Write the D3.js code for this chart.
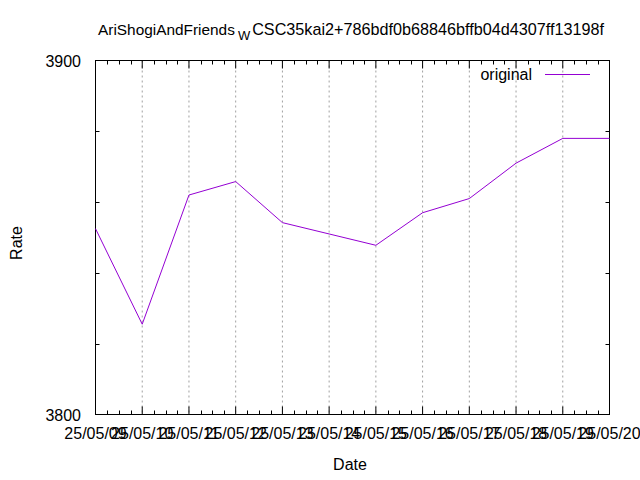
<!DOCTYPE html>
<html><head><meta charset="utf-8">
<script src="https://cdn.jsdelivr.net/npm/d3@7"></script>
<style>body{margin:0;background:#fff}svg{display:block}text{font-family:"Liberation Sans",Arial,sans-serif;fill:#000}</style>
</head><body>
<script>
const dates = ["25/05/09","25/05/10","25/05/11","25/05/12","25/05/13","25/05/14","25/05/15","25/05/16","25/05/17","25/05/18","25/05/19","25/05/20"];
const rates = [3852.5,3825.5,3862,3865.8,3854.2,3851,3847.8,3857,3861,3871,3878,3878];
const yTickLabels = [3800, 3900];
const seriesName = "original";
const titleMain = "AriShogiAndFriends";
const titleSub = "W";
const titleRest = "CSC35kai2+786bdf0b68846bffb04d4307ff13198f";

const W = 640, H = 480;
const L = 95.5, R = 609.5, T = 60.5, B = 414.5;
const FS = 16;
const svg = d3.select("body").append("svg").attr("width", W).attr("height", H);

const x = d3.scaleLinear().domain([0, dates.length - 1]).range([L, R]);
const y = d3.scaleLinear().domain([3800, 3900]).range([B, T]);

// grid
svg.append("g").selectAll("line").data(d3.range(1, dates.length - 1)).join("line")
  .attr("x1", d => x(d)).attr("x2", d => x(d)).attr("y1", T).attr("y2", B)
  .attr("stroke", "#a0a0a0").attr("stroke-width", 1).attr("stroke-dasharray", "2,3");

// ticks
const tk = svg.append("g").attr("stroke", "#000").attr("stroke-width", 1);
const xMinor = d3.range(0, (dates.length - 1) * 4 + 1).map(i => i / 4).filter(v => v % 1 !== 0);
const xMajor = d3.range(0, dates.length);
xMinor.forEach(v => {
  const px = Math.round(x(v)) + 0.5;
  tk.append("line").attr("x1", px).attr("x2", px).attr("y1", B).attr("y2", B - 4);
  tk.append("line").attr("x1", px).attr("x2", px).attr("y1", T).attr("y2", T + 4);
});
xMajor.forEach(v => {
  tk.append("line").attr("x1", x(v)).attr("x2", x(v)).attr("y1", B).attr("y2", B - 8);
  tk.append("line").attr("x1", x(v)).attr("x2", x(v)).attr("y1", T).attr("y2", T + 8);
});
const yMinor = d3.range(3820, 3900, 20);
yMinor.forEach(v => {
  const py = Math.round(y(v)) + 0.5;
  tk.append("line").attr("x1", L).attr("x2", L + 4).attr("y1", py).attr("y2", py);
  tk.append("line").attr("x1", R).attr("x2", R - 4).attr("y1", py).attr("y2", py);
});

// frame
svg.append("rect").attr("x", L).attr("y", T).attr("width", R - L).attr("height", B - T)
  .attr("fill", "none").attr("stroke", "#000").attr("stroke-width", 1);

// line
const line = d3.line().x((d, i) => x(i)).y(d => y(d));
svg.append("path").datum(rates).attr("d", line).attr("fill", "none")
  .attr("stroke", "#9400d3").attr("stroke-width", 1);

// tick labels
svg.append("g").selectAll("text").data(dates).join("text")
  .attr("x", (d, i) => x(i)).attr("y", 439).attr("text-anchor", "middle")
  .attr("font-size", FS).text(d => d);
svg.append("g").selectAll("text").data(yTickLabels).join("text")
  .attr("x", 81).attr("y", d => y(d) + 6).attr("text-anchor", "end")
  .attr("font-size", FS).text(d => d);

// axis titles
svg.append("text").attr("x", 350).attr("y", 470).attr("text-anchor", "middle").attr("font-size", FS).text("Date");
svg.append("text").attr("transform", "translate(22,243) rotate(-90)").attr("text-anchor", "middle").attr("font-size", FS).text("Rate");

// title
const t = svg.append("text").attr("x", 98).attr("y", 35).attr("font-size", 15.4);
t.append("tspan").text(titleMain);
t.append("tspan").attr("dy", 5).attr("dx", 3).attr("font-size", 13).text(titleSub);
t.append("tspan").attr("dy", -5).attr("dx", 2).attr("font-size", 16.2).text(titleRest);

// legend
svg.append("text").attr("x", 532).attr("y", 80).attr("text-anchor", "end").attr("font-size", FS).text(seriesName);
svg.append("line").attr("x1", 545).attr("x2", 590).attr("y1", 74.5).attr("y2", 74.5)
  .attr("stroke", "#9400d3").attr("stroke-width", 1);
</script>
</body></html>
